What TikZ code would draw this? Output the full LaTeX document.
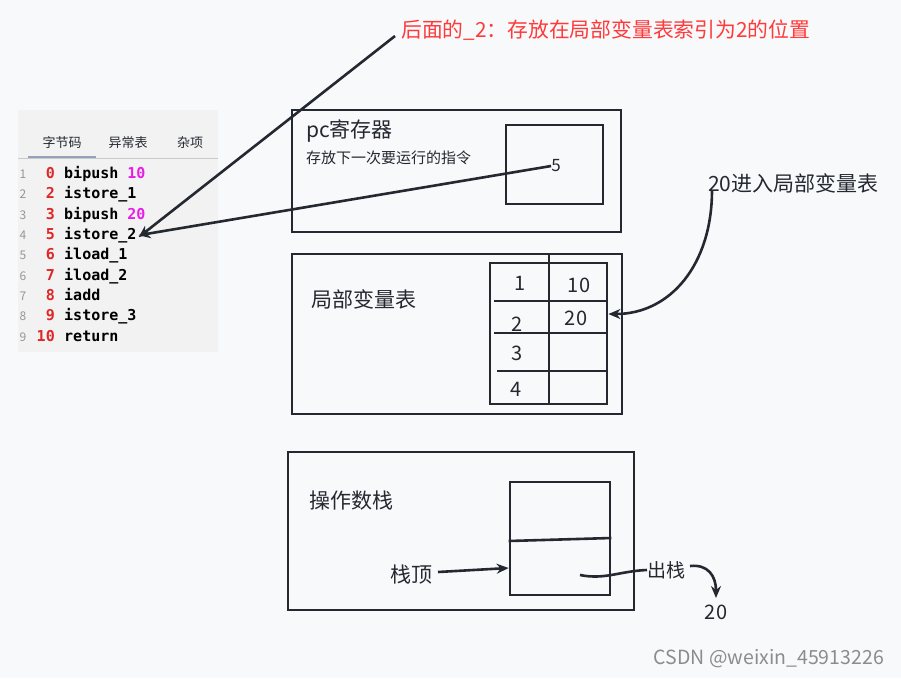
\documentclass[tikz,border=0pt]{standalone}
\usepackage{fontspec}
\setmainfont{Noto Sans CJK SC}
\newfontfamily\codefont{DejaVu Sans Mono}
\usetikzlibrary{arrows.meta}
\definecolor{bg}{RGB}{248,249,251}
\definecolor{panel}{RGB}{242,242,242}
\definecolor{ink}{RGB}{36,40,48}
\definecolor{lnum}{RGB}{150,150,150}
\definecolor{offred}{RGB}{222,40,40}
\definecolor{mag}{RGB}{232,30,232}
\definecolor{annred}{RGB}{255,58,58}
\definecolor{tabline}{RGB}{150,162,184}
\definecolor{wm}{RGB}{140,140,140}
\tikzset{
  box/.style={draw=ink, line width=2.8pt, inner sep=0pt, fill=none},
  lbl/.style={inner sep=0pt, text=ink},
  conn/.style={draw=ink, line width=2.6pt},
  arr/.style={conn, -{Stealth[length=12pt,width=10pt]}},
  tabtxt/.style={inner sep=0pt, text=ink, font=\fontsize{13}{13}\selectfont},
}
\begin{document}
\begin{tikzpicture}[x=1pt,y=-1pt]
\path[use as bounding box, fill=bg] (0,0) rectangle (901,678);

% code panel
\fill[panel] (18,110) rectangle (218,352);
\node[tabtxt] (tab1) at (62,143) {字节码};
\node[tabtxt] (tab2) at (128,143) {异常表};
\node[tabtxt] (tab3) at (190,143) {杂项};
\draw[lnum!50, line width=1pt] (18,158) -- (218,158);
\draw[tabline, line width=2.5pt] (28,157) -- (96,157);
\foreach[count=\k] \off/\ins in {0/{bipush \textcolor{mag}{10}},2/{istore\_1},3/{bipush \textcolor{mag}{20}},5/{istore\_2},6/{iload\_1},7/{iload\_2},8/{iadd},9/{istore\_3},10/{return}}{
  \pgfmathsetmacro{\yy}{173+20.35*(\k-1)+5.5}
  \node[anchor=base, inner sep=0pt, text=lnum, font=\fontsize{12}{12}\selectfont] (ln\k) at (23,\yy) {\k};
  \node[anchor=base east, inner sep=0pt, text=offred, font=\codefont\bfseries\fontsize{15}{15}\selectfont] (off\k) at (55,\yy) {\off};
  \node[anchor=base west, inner sep=0pt, text=black, font=\codefont\bfseries\fontsize{15}{15}\selectfont] (ins\k) at (64,\yy) {\ins};
}

% annotation
\node[anchor=west, inner sep=0pt, text=annred, font=\fontsize{20.8}{20.8}\selectfont] (ann) at (401,30) {后面的\_2：存放在局部变量表索引为2的位置};
\coordinate (annstart) at (395,36);

% pc register
\node[box, minimum width=329pt, minimum height=122pt] (pc) at (456.5,171) {};
\node[box, minimum width=97pt, minimum height=79pt] (pcin) at (554.5,164.5) {};
\node[lbl, anchor=west, font=\fontsize{21}{21}\selectfont] (pct) at (306,131) {pc寄存器};
\node[lbl, anchor=west, font=\fontsize{15}{15}\selectfont] (pcd) at (306,158) {存放下一次要运行的指令};
\node[lbl, font=\fontsize{17}{17}\selectfont] (five) at (556,166) {5};

\draw[arr] (annstart) -- ([xshift=2pt,yshift=-2pt]ins4.east);
\draw[arr] (five.west) -- ([xshift=2pt]ins4.east);

% local variable table
\node[box, minimum width=330pt, minimum height=160pt] (lv) at (457,334) {};
\node[box, minimum width=117pt, minimum height=141pt] (lvt) at (548.5,333.5) {};
\node[lbl, anchor=west, font=\fontsize{21}{21}\selectfont] (lvtitle) at (311,299) {局部变量表};
\coordinate (vtop) at (549,254);
\coordinate (vbot) at (549,404);
\draw[conn] (vtop) -- (vbot);
\draw[conn] (494,301) -- (lvt.east |- 0,301);
\draw[conn] (494,333) -- (lvt.east |- 0,333);
\draw[conn] (497,371) -- (lvt.east |- 0,371);
\node[lbl, font=\fontsize{20}{20}\selectfont] (i1) at (520,283) {1};
\node[lbl, font=\fontsize{20}{20}\selectfont] (i2) at (517,324) {2};
\node[lbl, font=\fontsize{20}{20}\selectfont] (i3) at (517,353) {3};
\node[lbl, font=\fontsize{20}{20}\selectfont] (i4) at (516,389) {4};
\node[lbl, font=\fontsize{20}{20}\selectfont] (v1) at (579,285) {10};
\node[lbl, font=\fontsize{20}{20}\selectfont] (v2) at (576,318) {20};

\node[lbl, anchor=west, font=\fontsize{21}{21}\selectfont] (enter) at (708,183) {20进入局部变量表};
\coordinate (enterfoot) at (712,190);
\draw[arr] (enterfoot) .. controls (712,265) and (670,314) .. (lvt.east |- 0,314);

% operand stack
\node[box, minimum width=346pt, minimum height=158pt] (os) at (461,531) {};
\node[box, minimum width=100pt, minimum height=113pt] (osin) at (560,538.5) {};
\draw[conn] (osin.west |- 0,541) -- (osin.east |- 0,538);
\node[lbl, anchor=west, font=\fontsize{21}{21}\selectfont] (ostitle) at (309,501) {操作数栈};
\node[lbl, anchor=west, font=\fontsize{21}{21}\selectfont] (top) at (390,575) {栈顶};
\coordinate (topstart) at (438,572);
\draw[arr] (topstart) -- (osin.west |- 0,568);
\coordinate (popstart) at (580,575);
\node[lbl, anchor=west, font=\fontsize{19}{19}\selectfont] (pop) at (647,570) {出栈};
\node[lbl, font=\fontsize{20}{20}\selectfont] (res) at (716,612) {20};
\coordinate (poptip) at (716,598);
\coordinate (popfrom) at (690,566);
\draw[conn] (popstart) .. controls (605,580) and (620,571) .. (pop.west);
\draw[arr] (popfrom) .. controls (708,564) and (716,576) .. (poptip);

% watermark
\node[anchor=east, inner sep=0pt, text=wm, font=\fontsize{19.5}{19.5}\selectfont] (wmk) at (884,659) {CSDN @weixin\_45913226};
\end{tikzpicture}
\end{document}
